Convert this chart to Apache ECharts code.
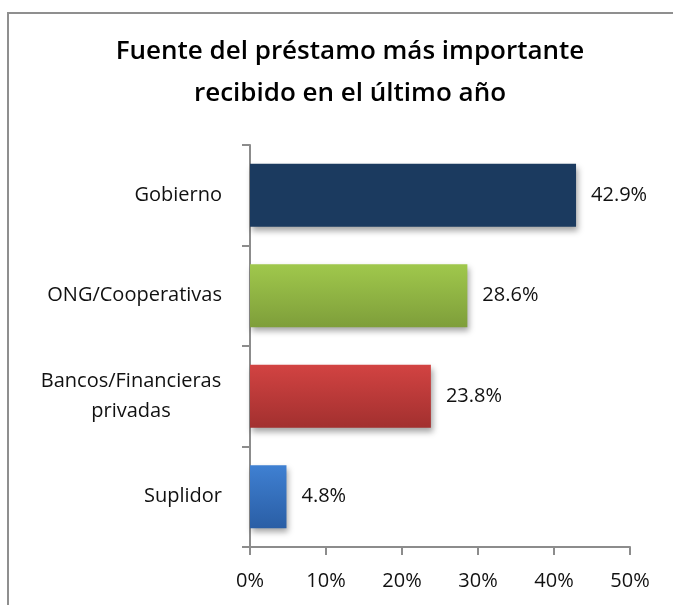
<!DOCTYPE html>
<html><head><meta charset="utf-8">
<script src="https://cdn.jsdelivr.net/npm/echarts@6/dist/echarts.min.js"></script>
<style>html,body{margin:0;padding:0;background:#fff}#c{width:673px;height:605px}</style>
</head><body><div id="c"></div>
<script>
const titleText = 'Fuente del préstamo más importante\nrecibido en el último año';
const categories = ['Gobierno', 'ONG/Cooperativas', 'Bancos/Financieras\nprivadas', 'Suplidor'];
const values = [42.9, 28.6, 23.8, 4.8];
const valueLabels = ['42.9%', '28.6%', '23.8%', '4.8%'];
const tickLabels = ['0%', '10%', '20%', '30%', '40%', '50%'];
const barColors = [
  ['#1b3a5f', '#1b3a5f'],
  ['#a0c84c', '#7e9e3a'],
  ['#d24342', '#a2302f'],
  ['#3f80d2', '#2a5ea5']
];

const chart = echarts.init(document.getElementById('c'));
const font = '"Open Sans", sans-serif';
chart.setOption({
  animation: false,
  graphic: [{
    type: 'polyline',
    shape: { points: [[8, 605], [8, 13], [673, 13]] },
    style: { stroke: '#8f8f8f', lineWidth: 2, fill: null }
  }],
  title: {
    text: titleText,
    left: 345, top: 26, textAlign: 'center',
    textStyle: { fontFamily: '"Open Sans", sans-serif', fontSize: 26, fontWeight: 600, color: '#000', lineHeight: 42 }
  },
  grid: { left: 250, right: 43, top: 145, bottom: 58 },
  xAxis: {
    type: 'value', min: 0, max: 50, interval: 10,
    axisLine: { show: true, lineStyle: { color: '#8c8c8c', width: 2 } },
    axisTick: { show: true, length: 8, lineStyle: { color: '#8c8c8c', width: 2 } },
    splitLine: { show: false },
    axisLabel: {
      margin: 24, fontFamily: font, fontSize: 20, color: '#111',
      formatter: (v) => tickLabels[Math.round(v / 10)]
    }
  },
  yAxis: {
    type: 'category', data: categories, inverse: true,
    axisLine: { show: true, lineStyle: { color: '#8c8c8c', width: 2 } },
    axisTick: { show: true, length: 8, lineStyle: { color: '#8c8c8c', width: 2 } },
    axisLabel: {
      margin: 28, fontFamily: font, fontSize: 20, color: '#111', lineHeight: 30,
      formatter: (v) => v.indexOf('\n') >= 0 ? v.split('\n').map(s => '{c|' + s + '}').join('\n') : v,
      rich: { c: { width: 182, align: 'center', fontFamily: font, fontSize: 20, color: '#111', lineHeight: 30 } }
    }
  },
  series: [{
    type: 'bar',
    barWidth: 63,
    data: values.map((v, i) => ({
      value: v,
      itemStyle: {
        color: new echarts.graphic.LinearGradient(0, 0, 0, 1, [
          { offset: 0, color: barColors[i][0] }, { offset: 1, color: barColors[i][1] }
        ]),
        shadowColor: 'rgba(0,0,0,0.35)', shadowBlur: 6, shadowOffsetY: 4, shadowOffsetX: 2
      }
    })),
    label: {
      show: true, position: 'right', distance: 15,
      fontFamily: font, fontSize: 20, color: '#111',
      formatter: (p) => valueLabels[p.dataIndex]
    }
  }]
});
</script></body></html>
